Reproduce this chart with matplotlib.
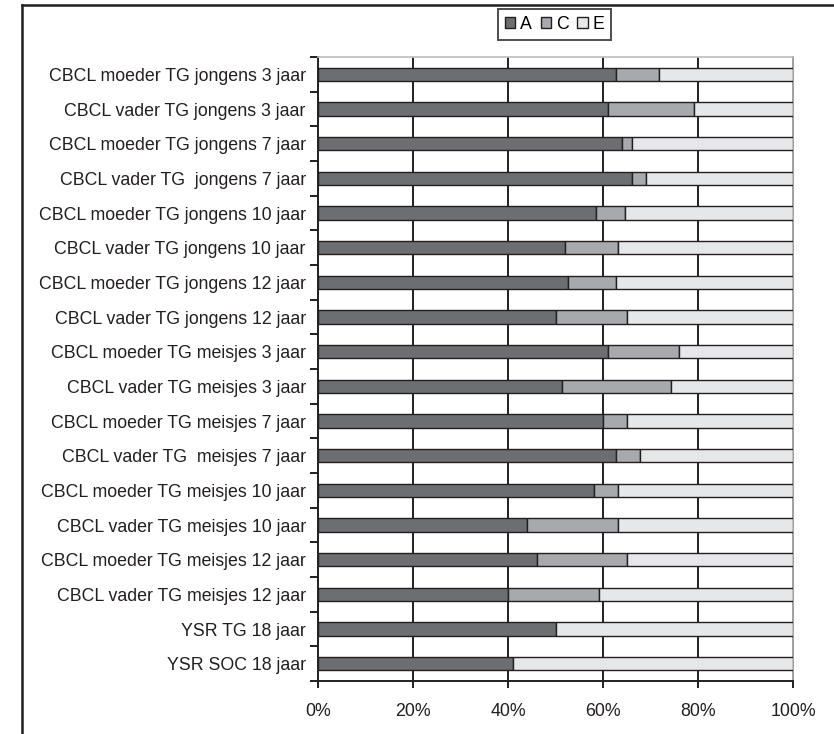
import matplotlib
matplotlib.use("Agg")
import matplotlib.pyplot as plt
from matplotlib.patches import Patch
from matplotlib.lines import Line2D
import numpy as np

plt.rcParams['font.family'] = ['Liberation Sans', 'DejaVu Sans']

categories = [
    "CBCL moeder TG jongens 3 jaar",
    "CBCL vader TG jongens 3 jaar",
    "CBCL moeder TG jongens 7 jaar",
    "CBCL vader TG  jongens 7 jaar",
    "CBCL moeder TG jongens 10 jaar",
    "CBCL vader TG jongens 10 jaar",
    "CBCL moeder TG jongens 12 jaar",
    "CBCL vader TG jongens 12 jaar",
    "CBCL moeder TG meisjes 3 jaar",
    "CBCL vader TG meisjes 3 jaar",
    "CBCL moeder TG meisjes 7 jaar",
    "CBCL vader TG  meisjes 7 jaar",
    "CBCL moeder TG meisjes 10 jaar",
    "CBCL vader TG meisjes 10 jaar",
    "CBCL moeder TG meisjes 12 jaar",
    "CBCL vader TG meisjes 12 jaar",
    "YSR TG 18 jaar",
    "YSR SOC 18 jaar",
]
A = [62.6, 61.0, 64.0, 66.0, 58.5, 52.0, 52.6, 50.0, 61.0, 51.2, 60.0, 62.7, 58.0, 44.0, 46.0, 40.0, 50.0, 41.0]
C = [9.2, 18.0, 2.0, 3.0, 6.0, 11.0, 10.0, 15.0, 15.0, 23.0, 5.0, 5.0, 5.0, 19.0, 19.0, 19.0, 0.0, 0.0]
E = [100 - a - c for a, c in zip(A, C)]
series_names = ["A", "C", "E"]
colors = ["#6d6e71", "#a7a9ac", "#e6e7e8"]
xticks = [0, 20, 40, 60, 80, 100]
xticklabels = ["0%", "20%", "40%", "60%", "80%", "100%"]

W, H = 834, 734
fig = plt.figure(figsize=(W / 100, H / 100), dpi=100)
left, right, top, bottom = 318.3, 793.3, 57, 681
ax = fig.add_axes([left / W, 1 - bottom / H, (right - left) / W, (bottom - top) / H])

y = np.arange(len(categories))
edge = "#231f20"
bh = 0.39
lefts = np.zeros(len(categories))
for vals, col in zip([A, C, E], colors):
    v = np.array(vals)
    mask = v > 0
    ax.barh(y[mask], v[mask], left=lefts[mask], height=bh, color=col,
            edgecolor=edge, linewidth=1.0, zorder=3)
    lefts = lefts + v

for gx in [20, 40, 60, 80]:
    ax.axvline(gx, color=edge, linewidth=1.4, zorder=1)

ax.set_xlim(0, 100)
ax.set_ylim(len(categories) - 0.5, -0.5)

ax.set_yticks(np.arange(-0.5, len(categories), 1.0))
ax.set_yticklabels([])
ax.set_yticks(y, minor=True)
ax.set_yticklabels(categories, minor=True, fontsize=12.8, color="#231f20")
ax.tick_params(axis='y', which='minor', length=0, pad=9)
ax.tick_params(axis='y', which='major', length=5.5, width=1.4, color=edge, direction='out')

ax.set_xticks(xticks)
ax.set_xticklabels(xticklabels, fontsize=12.8, color="#231f20")
ax.tick_params(axis='x', length=5, width=1.4, color=edge, direction='out', pad=11)

ax.spines['left'].set_color(edge)
ax.spines['left'].set_linewidth(1.4)
ax.spines['bottom'].set_color(edge)
ax.spines['bottom'].set_linewidth(1.4)
ax.spines['top'].set_color("#bcbec0")
ax.spines['top'].set_linewidth(1.2)
ax.spines['right'].set_color("#9d9fa2")
ax.spines['right'].set_linewidth(1.4)

# outer frame (left and top lines)
fx = 22 / W
fy = 1 - 5 / H
fig.add_artist(Line2D([fx, fx], [fy, -0.01], transform=fig.transFigure, color="#231f20", linewidth=1.8))
fig.add_artist(Line2D([fx, 1.01], [fy, fy], transform=fig.transFigure, color="#231f20", linewidth=1.8))

handles = [Patch(facecolor=c, edgecolor=edge, linewidth=1.0, label=n) for c, n in zip(colors, series_names)]
leg = fig.legend(handles=handles, loc='center', bbox_to_anchor=(554.5 / W, 1 - 24.5 / H),
                 ncol=3, frameon=True, fancybox=False, edgecolor=edge, fontsize=12.8,
                 handlelength=0.6, handleheight=0.6, handletextpad=0.25, columnspacing=0.5,
                 borderpad=0.4, borderaxespad=0)
leg.get_frame().set_linewidth(1.4)

fig.savefig("out.png", dpi=100)
